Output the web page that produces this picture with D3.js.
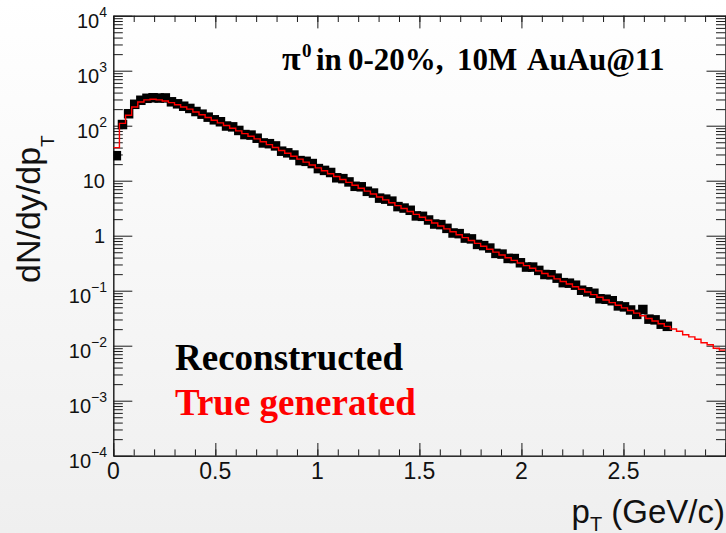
<!DOCTYPE html>
<html>
<head>
<meta charset="utf-8">
<script src="https://cdn.jsdelivr.net/npm/d3@7"></script>
<style>
  html, body { margin: 0; padding: 0; }
  body { width: 726px; height: 533px; overflow: hidden; }
</style>
</head>
<body>
<div id="chart"></div>
<script>
// pT bins, 0.03 GeV/c wide, from 0 to 3 GeV/c
const binWidth = 0.03;
const ptMax = 3;

// red histogram: true generated pi0 spectrum (100 bins)
const trueGenerated = [
  40, 110, 155, 219, 269, 295, 302, 295, 282, 263,
  240, 219, 200, 178, 158, 141, 126, 112.5, 100.7, 89.9,
  80.4, 71.9, 64.3, 57.5, 51.2, 45.3, 40.1, 35.5, 31.5, 27.9,
  24.7, 21.8, 19.3, 17.1, 15.2, 13.4, 11.9, 10.5, 9.31, 8.24,
  7.31, 6.47, 5.73, 5.07, 4.49, 3.97, 3.52, 3.12, 2.76, 2.44,
  2.16, 1.91, 1.70, 1.50, 1.33, 1.18, 1.04, 0.923, 0.818, 0.724,
  0.641, 0.568, 0.502, 0.445, 0.398, 0.356, 0.319, 0.286, 0.256, 0.229,
  0.205, 0.184, 0.164, 0.147, 0.132, 0.118, 0.106, 0.0946, 0.0847, 0.0759,
  0.0679, 0.0608, 0.0545, 0.0488, 0.0437, 0.0391, 0.0350, 0.0313, 0.0281, 0.0251,
  0.0225, 0.0201, 0.0183, 0.0158, 0.0145, 0.0131, 0.0113, 0.0104, 0.0090, 0.0083
];

// black squares: reconstructed pi0 spectrum (91 bins)
const reconstructed = [
  28.5, 105, 165, 245, 290, 315, 322, 318, 320, 272,
  250, 226, 206, 181, 162, 143, 128, 118, 98.7, 95.3,
  82.0, 69.0, 67.5, 59.2, 48.6, 47.1, 42.9, 34.4, 32.1, 29.3,
  23.2, 22.5, 20.5, 16.6, 15.4, 14.1, 11.3, 10.9, 9.50, 7.91,
  7.75, 6.41, 5.96, 4.82, 4.62, 4.25, 3.38, 3.18, 2.90, 2.29,
  2.25, 1.93, 1.63, 1.59, 1.36, 1.12, 1.09, 0.905, 0.875, 0.695,
  0.660, 0.596, 0.477, 0.463, 0.386, 0.384, 0.322, 0.269, 0.269, 0.234,
  0.197, 0.195, 0.169, 0.140, 0.137, 0.126, 0.102, 0.0955, 0.0898, 0.0713,
  0.0699, 0.0657, 0.0529, 0.0508, 0.0446, 0.0371, 0.0455, 0.0304, 0.0295, 0.0246,
  0.0225
];

const xMajorTicks = [0, 0.5, 1, 1.5, 2, 2.5, 3];
const xTickLabels = ["0", "0.5", "1", "1.5", "2", "2.5"];
const yDecades = [-4, -3, -2, -1, 0, 1, 2, 3, 4];

const W = 726, H = 533;
const plot = { left: 113.3, right: 725.5, top: 15.7, bottom: 455.7 };

const svg = d3.select('#chart').append('svg')
  .attr('width', W)
  .attr('height', H);

// slide background, a soft grey fade
const grad = svg.append('defs').append('linearGradient')
  .attr('id', 'bg').attr('x1', 0).attr('y1', 0).attr('x2', 0).attr('y2', 1);
grad.append('stop').attr('offset', '0%').attr('stop-color', '#ffffff');
grad.append('stop').attr('offset', '100%').attr('stop-color', '#efefef');
svg.append('rect').attr('width', W).attr('height', H).attr('fill', 'url(#bg)');

svg.select('defs').append('clipPath').attr('id', 'frame')
  .append('rect')
    .attr('x', plot.left).attr('y', plot.top)
    .attr('width', plot.right - plot.left).attr('height', plot.bottom - plot.top);

const x = d3.scaleLinear().domain([0, ptMax]).range([plot.left, plot.right]);
const y = d3.scaleLog().domain([1e-4, 1e4]).range([plot.bottom, plot.top]);

const yMajor = yDecades.map(k => Math.pow(10, k));
const yMinor = [];
yDecades.slice(0, -1).forEach(k => {
  for (let m = 2; m <= 9; m++) yMinor.push(m * Math.pow(10, k));
});
const xMinor = d3.range(0, 31).map(i => i / 10);

// Axis helper, ticks point into the frame like ROOT does
function drawAxis(axis, tx, ty) {
  const g = svg.append('g')
    .attr('transform', `translate(${tx},${ty})`)
    .call(axis.tickFormat('').tickSizeOuter(0));
  g.selectAll('path, line').attr('stroke', '#1a1a1a').attr('stroke-width', 1);
  return g;
}

drawAxis(d3.axisBottom(x).tickValues(xMinor).tickSize(-6.3), 0, plot.bottom);
drawAxis(d3.axisBottom(x).tickValues(xMajorTicks).tickSize(-12.7), 0, plot.bottom);
drawAxis(d3.axisTop(x).tickValues(xMinor).tickSize(-6.3), 0, plot.top);
drawAxis(d3.axisTop(x).tickValues(xMajorTicks).tickSize(-12.7), 0, plot.top);
drawAxis(d3.axisLeft(y).tickValues(yMinor).tickSize(-9.5), plot.left, 0);
drawAxis(d3.axisLeft(y).tickValues(yMajor).tickSize(-19), plot.left, 0);
drawAxis(d3.axisRight(y).tickValues(yMinor).tickSize(-9.5), plot.right, 0);
drawAxis(d3.axisRight(y).tickValues(yMajor).tickSize(-19), plot.right, 0);

// x tick labels
svg.append('g').selectAll('text')
  .data(xTickLabels)
  .join('text')
    .attr('x', (d, i) => x(xMajorTicks[i]))
    .attr('y', 479)
    .attr('text-anchor', 'middle')
    .attr('font-family', 'Liberation Sans, Arial, sans-serif')
    .attr('font-size', 23)
    .attr('fill', '#111')
    .text(d => d);

// y tick labels with exponents
const yLab = svg.append('g')
  .attr('font-family', 'Liberation Sans, Arial, sans-serif')
  .attr('fill', '#111');
yDecades.forEach(k => {
  const ty = y(Math.pow(10, k));
  if (k === 0 || k === 1) {
    yLab.append('text')
      .attr('x', 105).attr('y', ty + 7)
      .attr('text-anchor', 'end')
      .attr('font-size', 20)
      .text(k === 0 ? '1' : '10');
  } else {
    const t = yLab.append('text')
      .attr('x', 107).attr('y', ty + 12.5)
      .attr('text-anchor', 'end')
      .attr('font-size', 20);
    t.append('tspan').text('10');
    t.append('tspan')
      .attr('dy', -11)
      .attr('font-size', 14)
      .text(k < 0 ? '\u2212' + (-k) : String(k));
  }
});

// plot contents
const content = svg.append('g').attr('clip-path', 'url(#frame)');

const stepPts = [];
trueGenerated.forEach((v, i) => {
  stepPts.push([i * binWidth, v]);
  stepPts.push([(i + 1) * binWidth, v]);
});
const stepLine = d3.line().x(d => x(d[0])).y(d => y(d[1]));

const ms = 9.5;
content.append('g').selectAll('rect')
  .data(reconstructed)
  .join('rect')
    .attr('x', (d, i) => x((i + 0.5) * binWidth) - ms / 2)
    .attr('y', d => y(d) - ms / 2)
    .attr('width', ms)
    .attr('height', ms)
    .attr('fill', '#000');

// red line drawn over the markers, as in the reference
content.append('path')
  .datum(stepPts)
  .attr('fill', 'none')
  .attr('stroke', '#ff0000')
  .attr('stroke-width', 1.4)
  .attr('d', stepLine);

// title inside the frame
const serif = 'Liberation Serif, Times New Roman, serif';
const title = svg.append('g')
  .attr('font-family', serif)
  .attr('font-weight', 'bold')
  .attr('font-size', 31)
  .attr('fill', '#000');
title.append('text').attr('x', 282).attr('y', 70).attr('font-size', 34).text('\u03c0');
title.append('text').attr('x', 302).attr('y', 57).attr('font-size', 19).text('0');
title.append('text').attr('x', 316).attr('y', 70).text('in');
title.append('text').attr('x', 348).attr('y', 70).text('0-20%,');
title.append('text').attr('x', 457).attr('y', 70).text('10M');
title.append('text').attr('x', 527).attr('y', 70).text('AuAu@11');

// legend-like labels
svg.append('text')
  .attr('x', 175).attr('y', 370)
  .attr('font-family', serif)
  .attr('font-weight', 'bold')
  .attr('font-size', 37)
  .attr('fill', '#000')
  .text('Reconstructed');
svg.append('text')
  .attr('x', 175).attr('y', 415)
  .attr('font-family', serif)
  .attr('font-weight', 'bold')
  .attr('font-size', 37)
  .attr('fill', '#ff0000')
  .text('True generated');

// axis titles
const xTitle = svg.append('text')
  .attr('x', 725).attr('y', 523)
  .attr('text-anchor', 'end')
  .attr('font-family', 'Liberation Sans, Arial, sans-serif')
  .attr('font-size', 33)
  .attr('fill', '#111');
xTitle.append('tspan').text('p');
xTitle.append('tspan').attr('dy', 8).attr('font-size', 20).text('T');
xTitle.append('tspan').attr('dy', -8).text(' (GeV/c)');

const yTitle = svg.append('text')
  .attr('transform', 'translate(40,283) rotate(-90)')
  .attr('font-family', 'Liberation Sans, Arial, sans-serif')
  .attr('font-size', 34)
  .attr('fill', '#111');
yTitle.append('tspan').text('dN/dy/dp');
yTitle.append('tspan').attr('dy', 14).attr('font-size', 19).text('T');
</script>
</body>
</html>
